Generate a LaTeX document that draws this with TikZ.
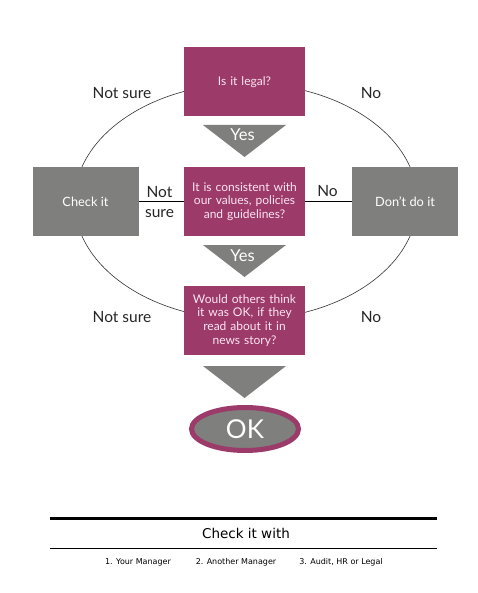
\documentclass[tikz,border=0pt]{standalone}
\usepackage{fontspec}
\setmainfont{Lato}
\newfontfamily\footfont{DejaVu Sans}
\usetikzlibrary{calc,shapes.geometric}
\definecolor{plum}{RGB}{156,58,106}
\definecolor{slate}{RGB}{127,127,125}
\definecolor{pinkwhite}{RGB}{250,228,240}
\tikzset{
  qbox/.style={fill=plum, text=pinkwhite, minimum width=121pt, minimum height=69pt,
    inner sep=2pt, align=center, font=\fontsize{12}{13.8}\selectfont, text width=117pt},
  gbox/.style={fill=slate, text=white, minimum width=106pt, minimum height=69pt,
    inner sep=2pt, align=center, font=\fontsize{12.8}{14}\selectfont},
  lbl/.style={font=\fontsize{15.5}{19}\selectfont, text=black!85, inner sep=0pt, align=center},
  tri/.style={fill=slate},
  yes/.style={font=\fontsize{16.5}{18}\selectfont, text=white, inner sep=0pt},
  link/.style={line width=1.6pt, black},
  ring/.style={draw=black!80, line width=0.6pt},
  foot/.style={font=\footfont\fontsize{8}{9}\selectfont, inner sep=0pt}
}
\begin{document}
\begin{tikzpicture}[x=1pt,y=-1pt]
\useasboundingbox[fill=white] (0,0) rectangle (477,593);
% big ellipse
\draw[ring] (246,201.5) ellipse [x radius=171.5, y radius=118];
% boxes
\node[qbox] (q1) at (244.5,82) {Is it legal?};
\node[qbox] (q2) at (244.5,201.5) {It is consistent with\\our values, policies\\and guidelines?};
\node[qbox] (q3) at (244.5,320.5) {Would others think\\it was OK, if they\\read about it in\\news story?};
\node[gbox, minimum width=106pt] (chk) at (85.5,201.5) {Check it};
\node[gbox, minimum width=106pt] (dont) at (405,201.5) {Don’t do it};
% connectors
\draw[link] (chk.east) -- (q2.west);
\draw[link] (q2.east) -- (dont.west);
\node[lbl, font=\fontsize{15.5}{20}\selectfont] (ns2) at (159.5,202) {Not\\sure};
\node[lbl] (no2) at (327.5,191) {No};
% triangles
\coordinate (t1) at (244.5,125);
\coordinate (t2) at (244.5,245);
\coordinate (t3) at (244.5,366);
\fill[tri] ($(t1)+(-41.5,0)$) -- ($(t1)+(41.5,0)$) -- ($(t1)+(0,32)$) -- cycle;
\fill[tri] ($(t2)+(-41.5,0)$) -- ($(t2)+(41.5,0)$) -- ($(t2)+(0,32)$) -- cycle;
\fill[tri] ($(t3)+(-41.5,0)$) -- ($(t3)+(41.5,0)$) -- ($(t3)+(0,32)$) -- cycle;
\node[yes] (y1) at (242.5,135) {Yes};
\node[yes] (y2) at (242.5,255.5) {Yes};
% OK
\node[ellipse, fill=slate, draw=plum, line width=5pt, minimum width=107pt, minimum height=43pt,
  text=white, font=\fontsize{26}{28}\selectfont, inner sep=0pt] (ok) at (245,429) {OK};
% outer labels
\node[lbl] (nsa) at (122,93) {Not sure};
\node[lbl] (noa) at (371,93) {No};
\node[lbl] (nsb) at (122,317) {Not sure};
\node[lbl] (nob) at (371,317) {No};
% footer
\coordinate (fa) at (50,518);
\coordinate (fb) at (437,518);
\coordinate (fc) at (50,548);
\coordinate (fd) at (437,548);
\draw[line width=3pt] (fa) -- (fb);
\draw[line width=0.8pt] (fc) -- (fd);
\node[font=\footfont\fontsize{13.5}{15}\selectfont, inner sep=0pt] (cw) at (246,533) {Check it with};
\node[foot] (f1) at (138,562) {1. Your Manager};
\node[foot] (f2) at (236,562) {2. Another Manager};
\node[foot] (f3) at (341,562) {3. Audit, HR or Legal};
\end{tikzpicture}
\end{document}
